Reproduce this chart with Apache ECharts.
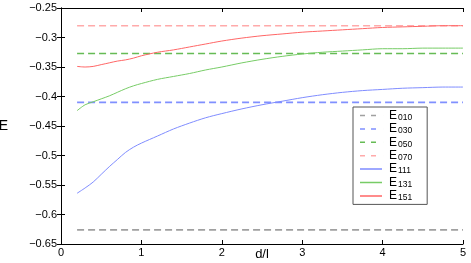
<!DOCTYPE html>
<html><head><meta charset="utf-8">
<script src="https://cdn.jsdelivr.net/npm/echarts@6/dist/echarts.min.js"></script>
<style>html,body{margin:0;padding:0;background:#fff}#c{width:471px;height:263px}</style>
</head><body><div id="c"></div>
<script>
// reference levels (dashed)
const refNames = ['010','030','050','070'];
const refValues = [-0.626, -0.410, -0.327, -0.280];
const refX = [0.2, 5];
// curves
const xs = [0.2,0.3,0.4,0.5,0.6,0.7,0.8,0.9,1.0,1.2,1.4,1.6,1.8,2.0,2.25,2.5,2.75,3.0,3.25,3.5,3.75,4.0,4.25,4.5,4.75,5.0];
const e111 = [-0.564,-0.555,-0.545,-0.532,-0.519,-0.507,-0.495,-0.486,-0.479,-0.467,-0.455,-0.445,-0.436,-0.429,-0.421,-0.414,-0.408,-0.402,-0.397,-0.393,-0.390,-0.388,-0.386,-0.385,-0.384,-0.384];
const e131 = [-0.424,-0.414,-0.409,-0.404,-0.399,-0.393,-0.387,-0.382,-0.378,-0.371,-0.366,-0.361,-0.355,-0.350,-0.343,-0.337,-0.332,-0.328,-0.325,-0.323,-0.321,-0.319,-0.319,-0.318,-0.318,-0.318];
const e151 = [-0.349,-0.350,-0.349,-0.346,-0.343,-0.340,-0.338,-0.335,-0.331,-0.325,-0.321,-0.316,-0.311,-0.306,-0.301,-0.297,-0.294,-0.291,-0.289,-0.287,-0.285,-0.283,-0.282,-0.281,-0.280,-0.280];
const curveNames = ['111','131','151'];
const yMin = -0.65, yMax = -0.25, yStep = 0.05;

const refColors = ['#a0a0a0','#8090ff','#66bb55','#ffaaaa'];
const curveColors = ['#7f8cff','#77cc66','#ff6666'];
const FONT = 'Liberation Sans';
const fmt = v => { const s = String(parseFloat(v.toFixed(2))); return s.replace('-', '\u2212'); };
const DASH_ICON = 'path://M0,0h5v1.5h-5zM11,0h5v1.5h-5zM23.98,0h0.02v1.5h-0.02z';
const SOLID_ICON = 'path://M0,0h22v1.5h-22zM23.98,0h0.02v1.5h-0.02z';

const series = [];
const legendData = [];
refNames.forEach((n,i)=>{
  series.push({name:'E'+n, type:'line', showSymbol:false, symbol:'none',
    data: refX.map(x=>[x, refValues[i]]),
    lineStyle:{color:refColors[i], width:1.6, type:[7,4]}, itemStyle:{color:refColors[i]}, silent:true, animation:false});
  legendData.push({name:'E'+n, icon:DASH_ICON});
});
[e111,e131,e151].forEach((arr,i)=>{
  series.push({name:'E'+curveNames[i], type:'line', showSymbol:false, symbol:'none', smooth:0.3,
    data: xs.map((x,j)=>[x, arr[j]]),
    lineStyle:{color:curveColors[i], width:1}, itemStyle:{color:curveColors[i]}, silent:true, animation:false});
  legendData.push({name:'E'+curveNames[i], icon:SOLID_ICON});
});

const axisCommon = {
  axisLine:{show:true, lineStyle:{color:'#000', width:1}},
  axisTick:{show:true, inside:true, length:4, lineStyle:{color:'#000'}},
  splitLine:{show:false}
};
const chart = echarts.init(document.getElementById('c'));
chart.setOption({
  animation:false,
  grid:{left:61, right:8, top:8, bottom:19, containLabel:false, outerBoundsMode:'none'},
  xAxis:[
    Object.assign({type:'value', min:0, max:5, interval:1, position:'bottom',
      axisLabel:{color:'#000', fontFamily:FONT, fontSize:11, margin:3, formatter:v=>String(v)},
      name:'d/l', nameLocation:'middle', nameGap:4, nameMoveOverlap:false,
      nameTextStyle:{color:'#000', fontFamily:FONT, fontSize:13}}, axisCommon),
    Object.assign({type:'value', min:0, max:5, interval:1, position:'top', axisLabel:{show:false}}, axisCommon)
  ],
  yAxis:[
    Object.assign({type:'value', min:yMin, max:yMax, interval:yStep, position:'left',
      axisLabel:{color:'#000', fontFamily:FONT, fontSize:11, margin:4, formatter:fmt},
      name:'E', nameLocation:'middle', nameRotate:0, nameGap:53, nameMoveOverlap:false,
      nameTextStyle:{color:'#000', fontFamily:FONT, fontSize:14, padding:[0,0,24,0]}}, axisCommon),
    Object.assign({type:'value', min:yMin, max:yMax, interval:yStep, position:'right', axisLabel:{show:false}}, axisCommon)
  ],
  legend:{
    left:353, top:107, orient:'vertical', itemWidth:24, itemHeight:8, itemGap:0.4,
    padding:[2,15,2,7], borderColor:'#555', borderWidth:1, backgroundColor:'#fff',
    data: legendData,
    formatter: n => '{b|E}{s|'+n.slice(1)+'}',
    textStyle:{fontFamily:FONT, rich:{
      b:{fontSize:12, color:'#000', fontFamily:FONT, lineHeight:11},
      s:{fontSize:8.5, color:'#000', fontFamily:FONT, padding:[4,0,0,1], lineHeight:9}
    }}
  },
  series
});
</script></body></html>
